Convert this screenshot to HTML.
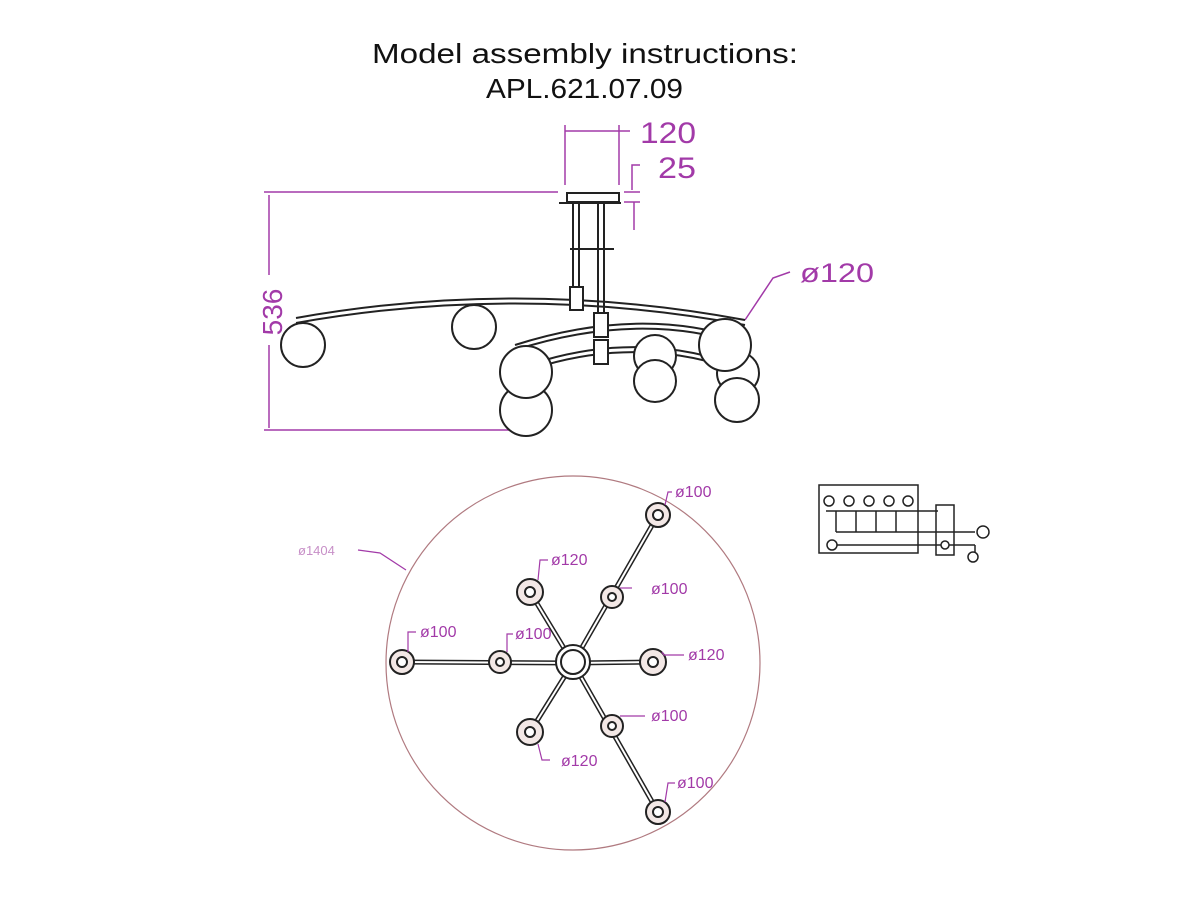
<!DOCTYPE html>
<html><head><meta charset="utf-8"><style>
html,body{margin:0;padding:0;background:#fff;width:1200px;height:900px;overflow:hidden}
svg{display:block}
</style></head><body>
<svg width="1200" height="900" viewBox="0 0 1200 900" xmlns="http://www.w3.org/2000/svg">
<text x="372" y="63" font-family="Liberation Sans, sans-serif" font-size="28" textLength="426" lengthAdjust="spacingAndGlyphs" fill="#111">Model assembly instructions:</text>
<text x="486" y="98" font-family="Liberation Sans, sans-serif" font-size="28" textLength="197" lengthAdjust="spacingAndGlyphs" fill="#111">APL.621.07.09</text>

<!-- dimensions (magenta) -->
<g stroke="#a23aa8" stroke-width="1.5" fill="none">
<line x1="565" y1="125" x2="565" y2="185"/><line x1="619" y1="125" x2="619" y2="185"/>
<line x1="565" y1="131" x2="619" y2="131"/><line x1="619" y1="131" x2="630" y2="131"/>
<polyline points="632,190 632,165 640,165"/>
<line x1="624" y1="192" x2="640" y2="192"/><line x1="624" y1="202" x2="640" y2="202"/>
<line x1="634" y1="202" x2="634" y2="230"/>
<line x1="264" y1="192" x2="558" y2="192"/>
<line x1="264" y1="430" x2="510" y2="430"/>
<line x1="269" y1="195" x2="269" y2="275"/><line x1="269" y1="345" x2="269" y2="428"/>
<polyline points="745,320 773,278 790,272"/>
</g>
<g font-family="Liberation Sans, sans-serif" fill="#a23aa8">
<text x="640" y="143" font-size="30" textLength="56" lengthAdjust="spacingAndGlyphs">120</text>
<text x="658" y="178" font-size="30" textLength="38" lengthAdjust="spacingAndGlyphs">25</text>
<text x="800" y="282" font-size="27" textLength="74" lengthAdjust="spacingAndGlyphs">ø120</text>
<text transform="translate(282,312) rotate(-90)" font-size="28" text-anchor="middle">536</text>
</g>

<!-- side view -->
<g stroke="#222" stroke-width="2" fill="#fff">
<rect x="567" y="193" width="52" height="9"/>
<line x1="559" y1="203" x2="621" y2="203"/>
<line x1="573" y1="203" x2="573" y2="287"/><line x1="579" y1="203" x2="579" y2="287"/>
<line x1="598" y1="203" x2="598" y2="320"/><line x1="604" y1="203" x2="604" y2="320"/>
<line x1="570" y1="249" x2="614" y2="249"/>
<path d="M296,318 Q520,278 745,320" fill="none"/>
<path d="M296,323 Q520,283 745,325" fill="none"/>
<path d="M515,345 Q640,305 745,340" fill="none"/>
<path d="M515,350 Q640,310 745,345" fill="none"/>
<path d="M545,360 Q650,330 750,370" fill="none"/>
<path d="M545,365 Q650,335 750,375" fill="none"/>
<rect x="570" y="287" width="13" height="23"/>
<rect x="594" y="313" width="14" height="24"/>
<rect x="594" y="340" width="14" height="24"/>
<circle cx="303" cy="345" r="22"/><circle cx="474" cy="327" r="22"/>
<circle cx="655" cy="356" r="21"/><circle cx="738" cy="373" r="21"/>
<circle cx="526" cy="410" r="26"/><circle cx="526" cy="372" r="26"/>
<circle cx="655" cy="381" r="21"/><circle cx="725" cy="345" r="26"/>
<circle cx="737" cy="400" r="22"/>
</g>

<!-- plan view -->
<circle cx="573" cy="663" r="187" fill="none" stroke="#b07a80" stroke-width="1.2"/>
<g stroke="#222" stroke-width="5" fill="none">
<line x1="573" y1="663" x2="658" y2="515"/>
<line x1="573" y1="663" x2="658" y2="812"/>
<line x1="573" y1="663" x2="402" y2="662"/>
<line x1="573" y1="663" x2="530" y2="592"/>
<line x1="573" y1="663" x2="530" y2="732"/>
<line x1="573" y1="663" x2="653" y2="662"/>
</g>
<g stroke="#fff" stroke-width="2" fill="none">
<line x1="573" y1="663" x2="658" y2="515"/>
<line x1="573" y1="663" x2="658" y2="812"/>
<line x1="573" y1="663" x2="402" y2="662"/>
<line x1="573" y1="663" x2="530" y2="592"/>
<line x1="573" y1="663" x2="530" y2="732"/>
<line x1="573" y1="663" x2="653" y2="662"/>
</g>
<g stroke="#222" stroke-width="2" fill="#fff">
<circle cx="573" cy="662" r="17"/><circle cx="573" cy="662" r="12"/>
<g fill="#f3e8e6"><circle cx="658" cy="515" r="12"/><circle cx="658" cy="812" r="12"/><circle cx="402" cy="662" r="12"/>
<circle cx="500" cy="662" r="11"/><circle cx="612" cy="597" r="11"/><circle cx="612" cy="726" r="11"/>
<circle cx="530" cy="592" r="13"/><circle cx="530" cy="732" r="13"/><circle cx="653" cy="662" r="13"/></g>
<g fill="#fff"><circle cx="658" cy="515" r="5"/><circle cx="658" cy="812" r="5"/><circle cx="402" cy="662" r="5"/>
<circle cx="500" cy="662" r="4"/><circle cx="612" cy="597" r="4"/><circle cx="612" cy="726" r="4"/>
<circle cx="530" cy="592" r="5"/><circle cx="530" cy="732" r="5"/><circle cx="653" cy="662" r="5"/></g>
</g>
<g stroke="#a23aa8" stroke-width="1.2" fill="none">
<polyline points="665,505 668,492 672,492"/>
<polyline points="538,580 540,560 548,560"/>
<polyline points="620,588 628,588 632,588"/>
<polyline points="408,652 408,632 416,632"/>
<polyline points="507,652 507,634 513,634"/>
<polyline points="662,652 664,655 684,655"/>
<polyline points="620,716 628,716 645,716"/>
<polyline points="538,744 542,760 550,760"/>
<polyline points="665,802 668,783 675,783"/>
<polyline points="358,550 380,553 406,570"/>
</g>
<g font-family="Liberation Sans, sans-serif" font-size="16" fill="#a23aa8">
<text x="675" y="497">ø100</text>
<text x="551" y="565">ø120</text>
<text x="651" y="594">ø100</text>
<text x="420" y="637">ø100</text>
<text x="515" y="639">ø100</text>
<text x="688" y="660">ø120</text>
<text x="651" y="721">ø100</text>
<text x="561" y="766">ø120</text>
<text x="677" y="788">ø100</text>
<text x="298" y="555" font-size="13" fill="#c78fc7">ø1404</text>
</g>

<!-- wiring -->
<g stroke="#222" stroke-width="1.5" fill="none">
<rect x="819" y="485" width="99" height="68"/>
<rect x="936" y="505" width="18" height="50"/>
<line x1="826" y1="511" x2="938" y2="511"/>
<line x1="836" y1="511" x2="836" y2="532"/><line x1="856" y1="511" x2="856" y2="532"/>
<line x1="876" y1="511" x2="876" y2="532"/><line x1="896" y1="511" x2="896" y2="532"/>
<line x1="836" y1="532" x2="975" y2="532"/>
<line x1="834" y1="545" x2="975" y2="545"/>
<line x1="975" y1="545" x2="975" y2="552"/>
<circle cx="983" cy="532" r="6" fill="#fff"/>
<circle cx="973" cy="557" r="5" fill="#fff"/>
<g fill="#fff">
<circle cx="829" cy="501" r="5"/><circle cx="849" cy="501" r="5"/><circle cx="869" cy="501" r="5"/>
<circle cx="889" cy="501" r="5"/><circle cx="908" cy="501" r="5"/><circle cx="832" cy="545" r="5"/>
<circle cx="945" cy="545" r="4"/>
</g>
</g>
</svg>
</body></html>
